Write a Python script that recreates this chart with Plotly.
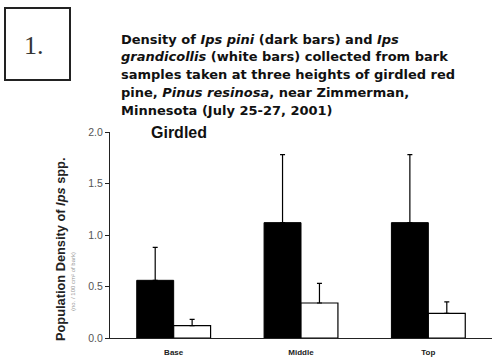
import plotly.graph_objects as go

categories = ["Base", "Middle", "Top"]
ips_pini = [0.56, 1.12, 1.12]
ips_pini_se = [0.32, 0.66, 0.66]
ips_grandicollis = [0.12, 0.34, 0.24]
ips_grandicollis_se = [0.06, 0.19, 0.11]
y_ticks = [0.0, 0.5, 1.0, 1.5, 2.0]

FONT = "Liberation Sans, Arial, sans-serif"
TFONT = "DejaVu Sans, Verdana, sans-serif"

W, H = 494, 362
PLOT_X0, PLOT_X1 = 110, 492
PLOT_Y0, PLOT_Y1 = 132, 338
L, R, T, B = PLOT_X0, W - PLOT_X1, PLOT_Y0, H - PLOT_Y1
PW = PLOT_X1 - PLOT_X0
PH = PLOT_Y1 - PLOT_Y0


def px(x):
    return (x - PLOT_X0) / PW


def py(y):
    return (PLOT_Y1 - y) / PH


fig = go.Figure()
fig.add_trace(go.Bar(
    x=categories, y=ips_pini, name="Ips pini",
    marker=dict(color="black", line=dict(color="black", width=1)),
    error_y=dict(type="data", array=ips_pini_se, arrayminus=[0] * 3,
                 symmetric=False, color="black", thickness=1.2, width=2.5),
))
fig.add_trace(go.Bar(
    x=categories, y=ips_grandicollis, name="Ips grandicollis",
    marker=dict(color="white", line=dict(color="black", width=1.2)),
    error_y=dict(type="data", array=ips_grandicollis_se, arrayminus=[0] * 3,
                 symmetric=False, color="black", thickness=1.2, width=2.5),
))

fig.update_layout(
    width=W, height=H,
    margin=dict(l=L, r=R, t=T, b=B),
    paper_bgcolor="white", plot_bgcolor="white",
    barmode="group", bargap=0.42, bargroupgap=0,
    showlegend=False,
    font=dict(family=FONT, color="black"),
)
fig.update_xaxes(
    showline=True, linecolor="#222", linewidth=1.2,
    ticks="", showgrid=False, zeroline=False,
    tickfont=dict(size=8, family=FONT, color="#222", weight="bold"),
    ticklabelstandoff=6,
)
fig.update_yaxes(
    range=[0, 2.0], tickvals=y_ticks, ticktext=[f"{v:.1f}" for v in y_ticks],
    showline=True, linecolor="#222", linewidth=1.2,
    ticks="outside", ticklen=4, tickcolor="#222",
    showgrid=False, zeroline=False,
    tickfont=dict(size=10.5, family=FONT, color="#555"),
)

title_lines = [
    "Density of <i>Ips pini</i> (dark bars) and <i>Ips</i>",
    "<i>grandicollis</i> (white bars) collected from bark",
    "samples taken at three heights of girdled red",
    "pine, <i>Pinus resinosa</i>, near Zimmerman,",
    "Minnesota (July 25-27, 2001)",
]
for i, line in enumerate(title_lines):
    fig.add_annotation(
        text=f"<b>{line}</b>", xref="paper", yref="paper",
        x=px(119), y=py(39 + i * 17.8), xanchor="left", yanchor="middle",
        showarrow=False, font=dict(size=13, family=TFONT, color="#111"),
    )

fig.add_shape(type="rect", xref="paper", yref="paper",
              x0=px(5), x1=px(70), y0=py(80), y1=py(8),
              line=dict(color="#222", width=2))
fig.add_annotation(text="1.", xref="paper", yref="paper",
                   x=px(34), y=py(45), xanchor="center", yanchor="middle",
                   showarrow=False,
                   font=dict(size=26, family="Liberation Serif, serif", color="#333"))

fig.add_annotation(text="<b>Girdled</b>", xref="paper", yref="paper",
                   x=px(149), y=py(132), xanchor="left", yanchor="middle",
                   showarrow=False, font=dict(size=16, family=FONT, color="#111"))

fig.add_annotation(text="<b>Population Density of <i>Ips</i> spp.</b>",
                   xref="paper", yref="paper", x=px(60), y=py(250),
                   xanchor="center", yanchor="middle", textangle=-90,
                   showarrow=False, font=dict(size=12.8, family=FONT, color="#222"))
fig.add_annotation(text="(no. / 100 cm² of bark)",
                   xref="paper", yref="paper", x=px(73), y=py(282),
                   xanchor="center", yanchor="middle", textangle=-90,
                   showarrow=False, font=dict(size=6, family=FONT, color="#999"))

fig.write_html("out.html",
               config={"displayModeBar": False},
               post_script="document.body.style.margin='0px';")
